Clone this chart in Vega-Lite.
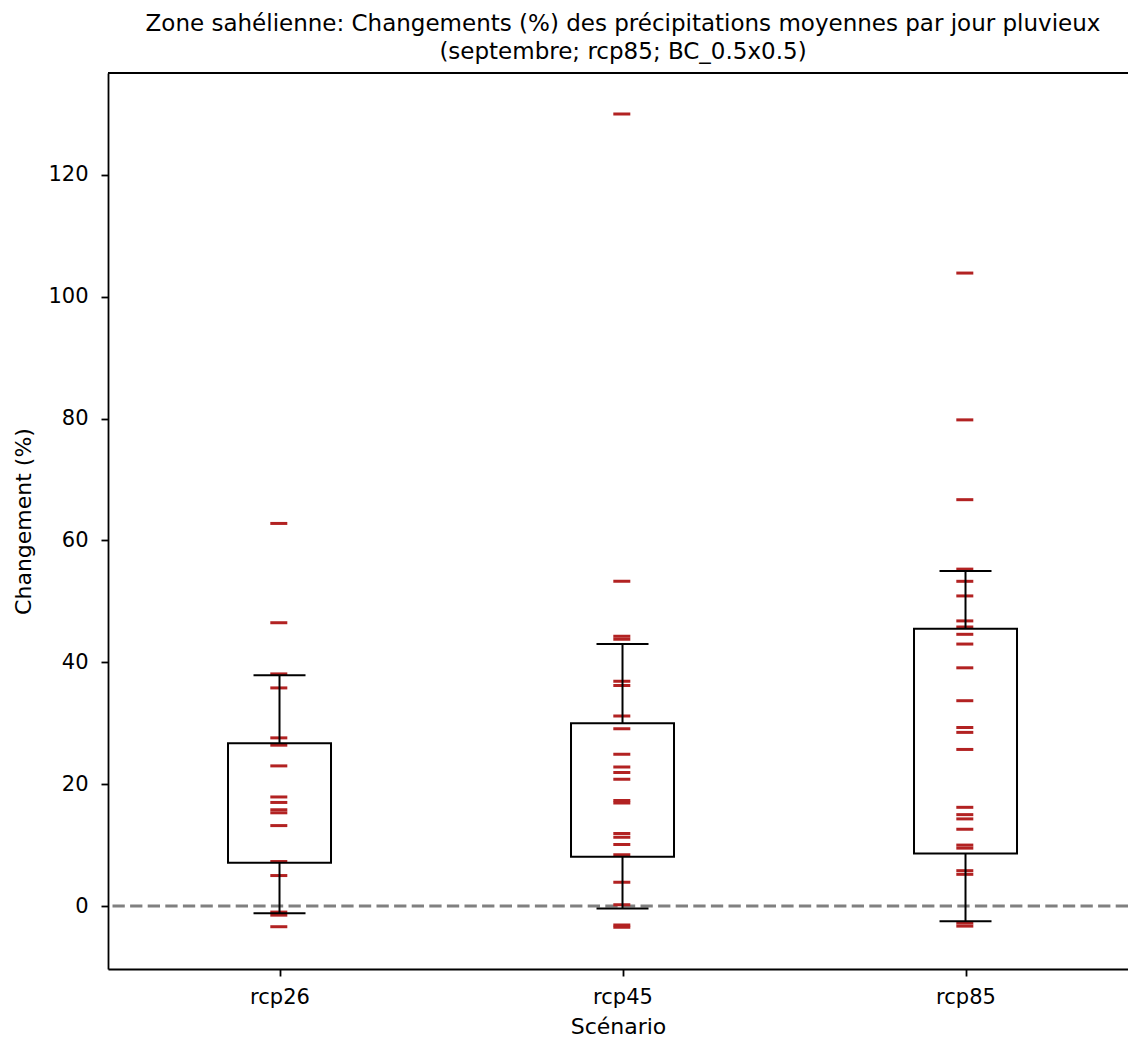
{
  "$schema": "https://vega.github.io/schema/vega-lite/v6.json",
  "autosize": {"type": "none"},
  "padding": {"left": 108, "top": 73, "right": 0, "bottom": 70},
  "width": 1020,
  "height": 896,
  "background": "white",
  "config": {
    "view": {"stroke": null},
    "font": "DejaVu Sans",
    "axis": {
      "labelFont": "DejaVu Sans", "titleFont": "DejaVu Sans",
      "labelFontSize": 21, "titleFontSize": 22,
      "labelColor": "#000", "titleColor": "#000",
      "titleFontWeight": "normal",
      "domainColor": "#000", "domainWidth": 1.8,
      "tickColor": "#000", "tickWidth": 1.8, "tickSize": 7,
      "grid": false
    }
  },
  "title": {
    "text": ["Zone sahélienne: Changements (%) des précipitations moyennes par jour pluvieux", "(septembre; rcp85; BC_0.5x0.5)"],
    "font": "DejaVu Sans", "fontSize": 23, "fontWeight": "normal", "color": "#000",
    "lineHeight": 28, "anchor": "middle", "offset": 8, "dx": 5
  },
  "datasets": {
    "points": [
      {"scenario": "rcp26", "value": 62.8}, {"scenario": "rcp26", "value": 46.5}, {"scenario": "rcp26", "value": 38.1},
      {"scenario": "rcp26", "value": 35.8}, {"scenario": "rcp26", "value": 27.6}, {"scenario": "rcp26", "value": 26.4},
      {"scenario": "rcp26", "value": 23.0}, {"scenario": "rcp26", "value": 17.9}, {"scenario": "rcp26", "value": 17.0},
      {"scenario": "rcp26", "value": 15.8}, {"scenario": "rcp26", "value": 15.3}, {"scenario": "rcp26", "value": 13.2},
      {"scenario": "rcp26", "value": 7.3}, {"scenario": "rcp26", "value": 5.0}, {"scenario": "rcp26", "value": -1.0},
      {"scenario": "rcp26", "value": -1.5}, {"scenario": "rcp26", "value": -3.4},
      {"scenario": "rcp45", "value": 130.0}, {"scenario": "rcp45", "value": 53.3}, {"scenario": "rcp45", "value": 44.3},
      {"scenario": "rcp45", "value": 43.8}, {"scenario": "rcp45", "value": 36.9}, {"scenario": "rcp45", "value": 36.2},
      {"scenario": "rcp45", "value": 31.2}, {"scenario": "rcp45", "value": 29.1}, {"scenario": "rcp45", "value": 24.9},
      {"scenario": "rcp45", "value": 22.8}, {"scenario": "rcp45", "value": 21.9}, {"scenario": "rcp45", "value": 20.8},
      {"scenario": "rcp45", "value": 17.3}, {"scenario": "rcp45", "value": 16.9}, {"scenario": "rcp45", "value": 11.9},
      {"scenario": "rcp45", "value": 11.3}, {"scenario": "rcp45", "value": 10.1}, {"scenario": "rcp45", "value": 8.4},
      {"scenario": "rcp45", "value": 3.9}, {"scenario": "rcp45", "value": 0.2}, {"scenario": "rcp45", "value": -3.1},
      {"scenario": "rcp45", "value": -3.5},
      {"scenario": "rcp85", "value": 103.9}, {"scenario": "rcp85", "value": 79.8}, {"scenario": "rcp85", "value": 66.7},
      {"scenario": "rcp85", "value": 55.3}, {"scenario": "rcp85", "value": 53.3}, {"scenario": "rcp85", "value": 50.9},
      {"scenario": "rcp85", "value": 46.8}, {"scenario": "rcp85", "value": 45.8}, {"scenario": "rcp85", "value": 44.6},
      {"scenario": "rcp85", "value": 43.0}, {"scenario": "rcp85", "value": 39.1}, {"scenario": "rcp85", "value": 33.7},
      {"scenario": "rcp85", "value": 29.3}, {"scenario": "rcp85", "value": 28.5}, {"scenario": "rcp85", "value": 25.7},
      {"scenario": "rcp85", "value": 16.2}, {"scenario": "rcp85", "value": 15.0}, {"scenario": "rcp85", "value": 14.3},
      {"scenario": "rcp85", "value": 12.6}, {"scenario": "rcp85", "value": 10.0}, {"scenario": "rcp85", "value": 9.5},
      {"scenario": "rcp85", "value": 5.8}, {"scenario": "rcp85", "value": 5.2}, {"scenario": "rcp85", "value": -2.8},
      {"scenario": "rcp85", "value": -3.3}
    ],
    "boxes": [
      {"scenario": "rcp26", "lower": -1.2, "q1": 7.1, "q3": 26.7, "upper": 37.9},
      {"scenario": "rcp45", "lower": -0.4, "q1": 8.1, "q3": 30.0, "upper": 43.0},
      {"scenario": "rcp85", "lower": -2.5, "q1": 8.6, "q3": 45.5, "upper": 55.0}
    ]
  },
  "encoding": {
    "x": {
      "field": "scenario", "type": "nominal",
      "scale": {"type": "point", "domain": ["rcp26", "rcp45", "rcp85"], "padding": 0.48688, "align": 0.5135, "round": false},
      "axis": {"title": "Scénario", "labelAngle": 0, "labelPadding": 10, "titlePadding": 9}
    }
  },
  "layer": [
    {
      "data": {"values": [{}]},
      "mark": {"type": "rule", "stroke": "#808080", "strokeWidth": 3, "strokeDash": [12.3, 5.3]},
      "encoding": {"x": null, "y": {"datum": 0, "type": "quantitative"}}
    },
    {
      "data": {"name": "points"},
      "mark": {"type": "tick", "color": "#b22222", "size": 17, "thickness": 3, "opacity": 1, "xOffset": -0.7},
      "encoding": {
        "y": {
          "field": "value", "type": "quantitative",
          "scale": {"domain": [-10.34, 136.74], "nice": false, "zero": false},
          "axis": {"title": "Changement (%)", "values": [0, 20, 40, 60, 80, 100, 120], "labelPadding": 13, "titlePadding": 12}
        }
      }
    },
    {
      "data": {"name": "boxes"},
      "mark": {"type": "rule", "color": "#000", "strokeWidth": 2},
      "encoding": {"y": {"field": "lower", "type": "quantitative"}, "y2": {"field": "q1"}}
    },
    {
      "data": {"name": "boxes"},
      "mark": {"type": "rule", "color": "#000", "strokeWidth": 2},
      "encoding": {"y": {"field": "q3", "type": "quantitative"}, "y2": {"field": "upper"}}
    },
    {
      "data": {"name": "boxes"},
      "mark": {"type": "bar", "size": 103, "fill": null, "fillOpacity": 0, "stroke": "#000", "strokeWidth": 2},
      "encoding": {"y": {"field": "q1", "type": "quantitative"}, "y2": {"field": "q3"}}
    },
    {
      "data": {"name": "boxes"},
      "mark": {"type": "tick", "color": "#000", "size": 52, "thickness": 2, "opacity": 1},
      "encoding": {"y": {"field": "upper", "type": "quantitative"}}
    },
    {
      "data": {"name": "boxes"},
      "mark": {"type": "tick", "color": "#000", "size": 52, "thickness": 2, "opacity": 1},
      "encoding": {"y": {"field": "lower", "type": "quantitative"}}
    },
    {
      "data": {"values": [{}]},
      "mark": {"type": "rule", "color": "#000", "strokeWidth": 1.8},
      "encoding": {"x": null, "y": {"datum": 136.74, "type": "quantitative"}}
    }
  ]
}
